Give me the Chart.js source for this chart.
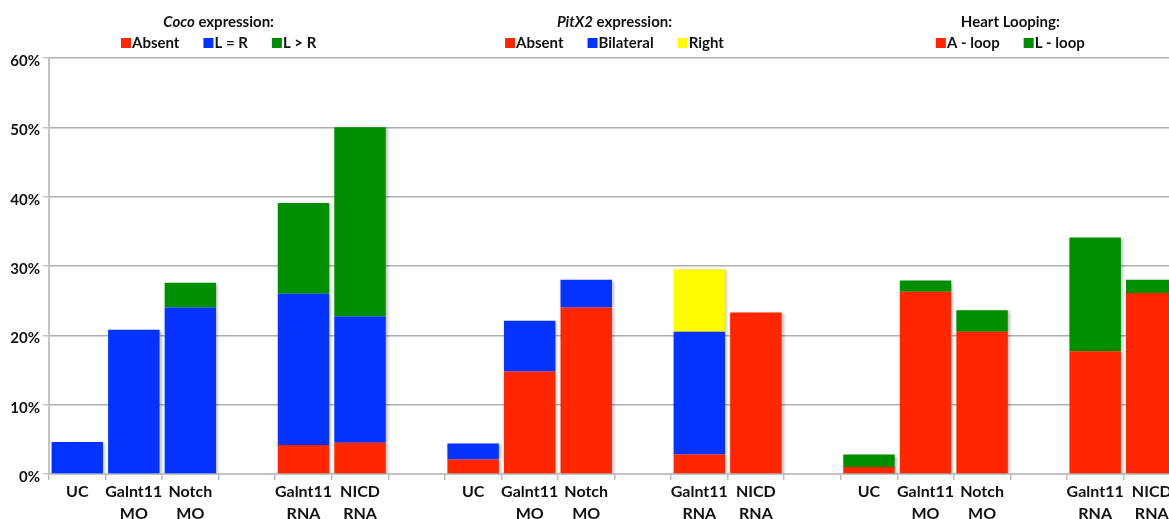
<!DOCTYPE html>
<html>
<head>
<meta charset="utf-8">
<title>Coco, PitX2 y Heart Looping</title>
<script src="https://cdn.jsdelivr.net/npm/chart.js@4"></script>
<style>
  html, body { margin: 0; padding: 0; background: #fff; overflow: hidden; }
  #contenedor-grafica { width: 1169px; height: 519px; overflow: hidden; }
</style>
</head>
<body>
<div id="contenedor-grafica"><canvas id="grafica" width="1180" height="519"></canvas></div>
<script>
// Categorías del eje x (las vacías separan los bloques)
const categorias = [
  'UC', ['Galnt11', 'MO'], ['Notch', 'MO'], '', ['Galnt11', 'RNA'], ['NICD', 'RNA'], '',
  'UC', ['Galnt11', 'MO'], ['Notch', 'MO'], '', ['Galnt11', 'RNA'], ['NICD', 'RNA'], '',
  'UC', ['Galnt11', 'MO'], ['Notch', 'MO'], '', ['Galnt11', 'RNA'], ['NICD', 'RNA']
];
// Índices de las categorías de cada grupo
const posiciones = [[0, 1, 2, 4, 5], [7, 8, 9, 11, 12], [14, 15, 16, 18, 19]];

// Coco expression (%)
const cocoAusente = [0, 0, 0, 4.2, 4.5];
const cocoIgual = [4.6, 20.8, 24.0, 21.8, 18.2];
const cocoMayor = [0, 0, 3.6, 13.1, 27.3];
// PitX2 expression (%)
const pitx2Ausente = [2.1, 14.8, 24.0, 2.8, 23.3];
const pitx2Bilateral = [2.3, 7.3, 4.0, 17.7, 0];
const pitx2Derecha = [0, 0, 0, 9.0, 0];
// Heart Looping (%)
const corazonA = [1.0, 26.3, 20.5, 17.7, 26.1];
const corazonL = [1.8, 1.6, 3.1, 16.4, 1.9];

// Marcas del eje y
const ticksY = [0, 10, 20, 30, 40, 50, 60];

// Títulos de cada leyenda: [parte en cursiva, resto]
const titulosGrupos = [['Coco', ' expression:'], ['PitX2', ' expression:'], ['', 'Heart Looping:']];

const rojo = '#FF2600';
const azul = '#0433FF';
const verde = '#008F00';
const amarillo = '#FFFB00';
const fuente = 'Lato';

// Coloca los 5 valores de un grupo en su sitio del eje x
function serie(grupo, valores) {
  const d = Array(categorias.length).fill(null);
  posiciones[grupo].forEach((p, i) => { d[p] = valores[i]; });
  return d;
}

// Sombra suave detrás de las barras
const sombra = {
  id: 'sombra',
  beforeDatasetsDraw(chart) {
    const ctx = chart.ctx;
    ctx.save();
    ctx.shadowColor = 'rgba(0,0,0,0.25)';
    ctx.shadowBlur = 3;
    ctx.shadowOffsetX = 2;
    ctx.shadowOffsetY = 1;
  },
  afterDatasetsDraw(chart) {
    chart.ctx.restore();
  }
};

// Una leyenda con título encima de cada grupo
const leyendas = {
  id: 'leyendas',
  afterDraw(chart) {
    const ctx = chart.ctx;
    const x = chart.scales.x;
    ctx.save();
    ctx.textBaseline = 'middle';
    ctx.textAlign = 'left';
    ctx.fillStyle = '#111';
    titulosGrupos.forEach((titulo, g) => {
      const centro = (x.getPixelForValue(posiciones[g][0]) + x.getPixelForValue(posiciones[g][4])) / 2;

      // título
      const fCursiva = 'italic bold 15px ' + fuente;
      const fNormal = 'bold 15px ' + fuente;
      ctx.font = fCursiva;
      const w1 = ctx.measureText(titulo[0]).width;
      ctx.font = fNormal;
      const w2 = ctx.measureText(titulo[1]).width;
      let px = centro - (w1 + w2) / 2;
      ctx.font = fCursiva;
      ctx.fillText(titulo[0], px, 22);
      ctx.font = fNormal;
      ctx.fillText(titulo[1], px + w1, 22);

      // elementos
      const items = chart.data.datasets.filter(ds => ds.grupo === g);
      const anchos = items.map(ds => 11 + ctx.measureText(ds.label).width);
      const hueco = 24;
      const total = anchos.reduce((a, b) => a + b, 0) + hueco * (items.length - 1);
      px = centro - total / 2;
      items.forEach((ds, i) => {
        ctx.fillStyle = ds.backgroundColor;
        ctx.fillRect(px, 38, 10, 10);
        ctx.fillStyle = '#111';
        ctx.fillText(ds.label, px + 11, 43);
        px += anchos[i] + hueco;
      });
    });
    ctx.restore();
  }
};

function crearGrafica() {
  const canvas = document.getElementById('grafica');

  new Chart(canvas, {
    type: 'bar',
    data: {
      labels: categorias,
      datasets: [
        { label: 'Absent', data: serie(0, cocoAusente), backgroundColor: rojo, grupo: 0 },
        { label: 'L = R', data: serie(0, cocoIgual), backgroundColor: azul, grupo: 0 },
        { label: 'L > R', data: serie(0, cocoMayor), backgroundColor: verde, grupo: 0 },
        { label: 'Absent', data: serie(1, pitx2Ausente), backgroundColor: rojo, grupo: 1 },
        { label: 'Bilateral', data: serie(1, pitx2Bilateral), backgroundColor: azul, grupo: 1 },
        { label: 'Right', data: serie(1, pitx2Derecha), backgroundColor: amarillo, grupo: 1 },
        { label: 'A - loop', data: serie(2, corazonA), backgroundColor: rojo, grupo: 2 },
        { label: 'L - loop', data: serie(2, corazonL), backgroundColor: verde, grupo: 2 }
      ]
    },
    options: {
      responsive: false,
      animation: false,
      layout: { padding: { top: 58, right: 0, left: 0, bottom: 0 } },
      datasets: { bar: { categoryPercentage: 1, barPercentage: 0.91, borderWidth: 0 } },
      scales: {
        x: {
          stacked: true,
          ticks: {
            font: { family: fuente, size: 16, weight: 'bold', lineHeight: 1.42 },
            color: '#111', padding: 0, autoSkip: false, maxRotation: 0
          },
          grid: { drawOnChartArea: false, tickLength: 6, color: '#bdbdbd', lineWidth: 1.5 },
          border: { color: '#c4c4c4', width: 2 },
          afterFit: (s) => { s.height = 45; }
        },
        y: {
          stacked: true,
          min: ticksY[0],
          max: ticksY[ticksY.length - 1],
          afterBuildTicks: (s) => { s.ticks = ticksY.map(v => ({ value: v })); },
          ticks: {
            font: { family: fuente, size: 15, weight: 'bold' },
            color: '#111', padding: 3, labelOffset: 3, callback: (v) => v + '%'
          },
          grid: { color: '#b0b0b0', lineWidth: 1.5, tickLength: 6, tickColor: '#c4c4c4' },
          border: { color: '#c4c4c4', width: 2 },
          afterFit: (s) => { s.width = 49; }
        }
      },
      plugins: {
        legend: { display: false },
        tooltip: { enabled: false }
      }
    },
    plugins: [sombra, leyendas]
  });
}

window.onload = crearGrafica;
</script>
</body>
</html>
